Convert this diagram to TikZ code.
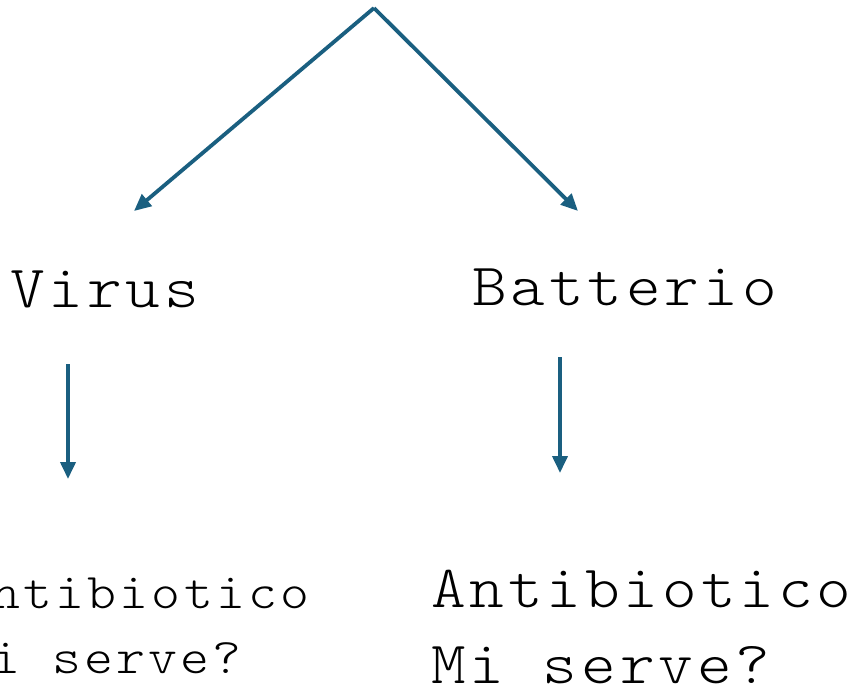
\documentclass[tikz,border=0pt]{standalone}
\usepackage{fontspec}
\newfontfamily\monofam{Latin Modern Mono Light}[FakeStretch=1.1, LetterSpace=6.5]
\usetikzlibrary{arrows.meta}
\definecolor{arrowblue}{HTML}{1A5F80}
\tikzset{
  conn/.style={draw=arrowblue, line width=3.8pt, -{Triangle[length=17pt,width=15pt]}},
  bigtxt/.style={inner sep=0pt, anchor=base west, align=left, font=\monofam\fontsize{60}{76}\selectfont},
  smalltxt/.style={inner sep=0pt, anchor=base west, align=left, font=\monofam\fontsize{50}{65}\selectfont}
}
\begin{document}
\begin{tikzpicture}[x=1pt,y=-1pt]
\useasboundingbox (0,0) rectangle (859,689);
\coordinate (apex) at (374,8);
\coordinate (lt) at (134,211);
\coordinate (rt) at (578,211);
\coordinate (lvs) at (68,364);
\coordinate (lve) at (68,479);
\coordinate (rvs) at (560,357);
\coordinate (rve) at (560,473);
\draw[conn] (apex) -- (lt);
\draw[conn] (apex) -- (rt);
\draw[conn] (lvs) -- (lve);
\draw[conn] (rvs) -- (rve);
\node[bigtxt] (virus) at (10,307) {Virus};
\node[bigtxt] (batt) at (472,305) {Batterio};
\node[bigtxt] (ranti) at (431,683) {Antibiotico\\Mi serve?};
\node[smalltxt] (lanti) at (-41,673) {Antibiotico\\Mi serve?};
\end{tikzpicture}
\end{document}
